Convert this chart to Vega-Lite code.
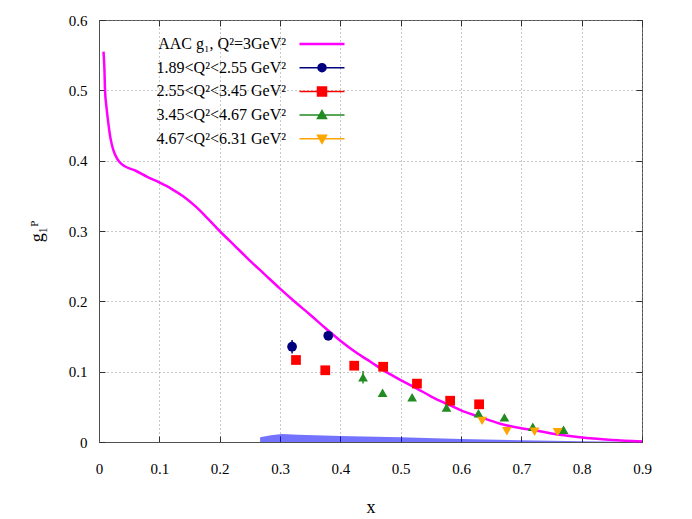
{
  "$schema": "https://vega.github.io/schema/vega-lite/v6.json",
  "width": 543,
  "height": 422,
  "autosize": {"type": "none"},
  "padding": {"left": 99, "top": 20, "right": 50, "bottom": 77},
  "background": "white",
  "config": {
    "font": "Liberation Serif",
    "view": {"stroke": "#505050", "strokeWidth": 1},
    "axis": {
      "labelFont": "Liberation Serif", "labelFontSize": 15, "labelColor": "#000", "labelFlush": false,
      "titleFont": "Liberation Serif", "titleFontSize": 18, "titleFontWeight": "normal", "titleColor": "#000",
      "domainColor": "#505050", "tickColor": "#303030", "tickSize": -6,
      "gridDash": [1, 3], "gridColor": "#909090", "gridOpacity": 1, "gridWidth": 1
    }
  },
  "datasets": {
    "band": [
      {"x": 0.267, "g1": 0.0067}, {"x": 0.285, "g1": 0.0095}, {"x": 0.303, "g1": 0.0112},
      {"x": 0.33, "g1": 0.0102}, {"x": 0.40, "g1": 0.0085}, {"x": 0.50, "g1": 0.0067},
      {"x": 0.60, "g1": 0.0043}, {"x": 0.70, "g1": 0.0025}, {"x": 0.80, "g1": 0.001}, {"x": 0.9, "g1": 0.0}
    ],
    "curve": [
      {"x": 0.0075, "g1": 0.555, "series": "AAC g₁, Q²=3GeV²"},
      {"x": 0.009, "g1": 0.53, "series": "AAC g₁, Q²=3GeV²"},
      {"x": 0.010, "g1": 0.50, "series": "AAC g₁, Q²=3GeV²"},
      {"x": 0.0125, "g1": 0.475, "series": "AAC g₁, Q²=3GeV²"},
      {"x": 0.0155, "g1": 0.453, "series": "AAC g₁, Q²=3GeV²"},
      {"x": 0.019, "g1": 0.432, "series": "AAC g₁, Q²=3GeV²"},
      {"x": 0.0238, "g1": 0.415, "series": "AAC g₁, Q²=3GeV²"},
      {"x": 0.03, "g1": 0.403, "series": "AAC g₁, Q²=3GeV²"},
      {"x": 0.0376, "g1": 0.395, "series": "AAC g₁, Q²=3GeV²"},
      {"x": 0.045, "g1": 0.391, "series": "AAC g₁, Q²=3GeV²"},
      {"x": 0.06, "g1": 0.386, "series": "AAC g₁, Q²=3GeV²"},
      {"x": 0.08, "g1": 0.377, "series": "AAC g₁, Q²=3GeV²"},
      {"x": 0.10, "g1": 0.369, "series": "AAC g₁, Q²=3GeV²"},
      {"x": 0.12, "g1": 0.360, "series": "AAC g₁, Q²=3GeV²"},
      {"x": 0.14, "g1": 0.349, "series": "AAC g₁, Q²=3GeV²"},
      {"x": 0.16, "g1": 0.335, "series": "AAC g₁, Q²=3GeV²"},
      {"x": 0.18, "g1": 0.318, "series": "AAC g₁, Q²=3GeV²"},
      {"x": 0.20, "g1": 0.300, "series": "AAC g₁, Q²=3GeV²"},
      {"x": 0.225, "g1": 0.279, "series": "AAC g₁, Q²=3GeV²"},
      {"x": 0.25, "g1": 0.258, "series": "AAC g₁, Q²=3GeV²"},
      {"x": 0.275, "g1": 0.238, "series": "AAC g₁, Q²=3GeV²"},
      {"x": 0.30, "g1": 0.218, "series": "AAC g₁, Q²=3GeV²"},
      {"x": 0.325, "g1": 0.199, "series": "AAC g₁, Q²=3GeV²"},
      {"x": 0.35, "g1": 0.181, "series": "AAC g₁, Q²=3GeV²"},
      {"x": 0.375, "g1": 0.162, "series": "AAC g₁, Q²=3GeV²"},
      {"x": 0.40, "g1": 0.144, "series": "AAC g₁, Q²=3GeV²"},
      {"x": 0.425, "g1": 0.128, "series": "AAC g₁, Q²=3GeV²"},
      {"x": 0.45, "g1": 0.114, "series": "AAC g₁, Q²=3GeV²"},
      {"x": 0.475, "g1": 0.100, "series": "AAC g₁, Q²=3GeV²"},
      {"x": 0.50, "g1": 0.088, "series": "AAC g₁, Q²=3GeV²"},
      {"x": 0.527, "g1": 0.076, "series": "AAC g₁, Q²=3GeV²"},
      {"x": 0.55, "g1": 0.065, "series": "AAC g₁, Q²=3GeV²"},
      {"x": 0.582, "g1": 0.052, "series": "AAC g₁, Q²=3GeV²"},
      {"x": 0.60, "g1": 0.045, "series": "AAC g₁, Q²=3GeV²"},
      {"x": 0.63, "g1": 0.036, "series": "AAC g₁, Q²=3GeV²"},
      {"x": 0.665, "g1": 0.026, "series": "AAC g₁, Q²=3GeV²"},
      {"x": 0.70, "g1": 0.0195, "series": "AAC g₁, Q²=3GeV²"},
      {"x": 0.72, "g1": 0.017, "series": "AAC g₁, Q²=3GeV²"},
      {"x": 0.75, "g1": 0.012, "series": "AAC g₁, Q²=3GeV²"},
      {"x": 0.797, "g1": 0.0067, "series": "AAC g₁, Q²=3GeV²"},
      {"x": 0.85, "g1": 0.003, "series": "AAC g₁, Q²=3GeV²"},
      {"x": 0.90, "g1": 0.0008, "series": "AAC g₁, Q²=3GeV²"}
    ],
    "points": [
      {"x": 0.320, "g1": 0.1355, "err": 0.0095, "series": "1.89<Q²<2.55 GeV²"},
      {"x": 0.380, "g1": 0.151, "err": 0.003, "series": "1.89<Q²<2.55 GeV²"},
      {"x": 0.3265, "g1": 0.1166, "err": 0.003, "series": "2.55<Q²<3.45 GeV²"},
      {"x": 0.375, "g1": 0.102, "err": 0.003, "series": "2.55<Q²<3.45 GeV²"},
      {"x": 0.423, "g1": 0.1085, "err": 0.003, "series": "2.55<Q²<3.45 GeV²"},
      {"x": 0.471, "g1": 0.107, "err": 0.003, "series": "2.55<Q²<3.45 GeV²"},
      {"x": 0.527, "g1": 0.083, "err": 0.003, "series": "2.55<Q²<3.45 GeV²"},
      {"x": 0.582, "g1": 0.0587, "err": 0.003, "series": "2.55<Q²<3.45 GeV²"},
      {"x": 0.630, "g1": 0.0536, "err": 0.005, "series": "2.55<Q²<3.45 GeV²"},
      {"x": 0.4376, "g1": 0.092, "err": 0.009, "series": "3.45<Q²<4.67 GeV²"},
      {"x": 0.470, "g1": 0.070, "err": 0.003, "series": "3.45<Q²<4.67 GeV²"},
      {"x": 0.519, "g1": 0.0635, "err": 0.003, "series": "3.45<Q²<4.67 GeV²"},
      {"x": 0.576, "g1": 0.049, "err": 0.003, "series": "3.45<Q²<4.67 GeV²"},
      {"x": 0.629, "g1": 0.0408, "err": 0.003, "series": "3.45<Q²<4.67 GeV²"},
      {"x": 0.672, "g1": 0.035, "err": 0.003, "series": "3.45<Q²<4.67 GeV²"},
      {"x": 0.719, "g1": 0.0218, "err": 0.003, "series": "3.45<Q²<4.67 GeV²"},
      {"x": 0.770, "g1": 0.0175, "err": 0.003, "series": "3.45<Q²<4.67 GeV²"},
      {"x": 0.635, "g1": 0.030, "err": 0.003, "series": "4.67<Q²<6.31 GeV²"},
      {"x": 0.676, "g1": 0.0152, "err": 0.003, "series": "4.67<Q²<6.31 GeV²"},
      {"x": 0.722, "g1": 0.0147, "err": 0.003, "series": "4.67<Q²<6.31 GeV²"},
      {"x": 0.760, "g1": 0.0138, "err": 0.003, "series": "4.67<Q²<6.31 GeV²"}
    ]
  },
  "layer": [
    {
      "data": {"name": "band"},
      "mark": {"type": "area", "color": "#0000ff", "opacity": 0.55},
      "encoding": {
        "x": {"field": "x", "type": "quantitative", "scale": {"domain": [0, 0.9], "nice": false},
          "axis": {"orient": "bottom", "title": "x", "values": [0, 0.1, 0.2, 0.3, 0.4, 0.5, 0.6, 0.7, 0.8, 0.9], "format": ".1~f", "labelPadding": 25, "titlePadding": 22, "grid": true}},
        "y": {"field": "g1", "type": "quantitative", "scale": {"domain": [0, 0.6], "nice": false},
          "axis": {"orient": "left", "title": "g₁ᴾ", "values": [0, 0.1, 0.2, 0.3, 0.4, 0.5, 0.6], "format": ".1~f", "labelPadding": 18, "titlePadding": 22, "grid": true}}
      }
    },
    {
      "data": {"name": "curve"},
      "mark": {"type": "line", "strokeWidth": 2.5, "interpolate": "monotone"},
      "encoding": {
        "x": {"field": "x", "type": "quantitative",
          "axis": {"orient": "top", "labels": false, "title": null, "grid": false, "domain": false, "values": [0, 0.1, 0.2, 0.3, 0.4, 0.5, 0.6, 0.7, 0.8, 0.9]}},
        "y": {"field": "g1", "type": "quantitative",
          "axis": {"orient": "right", "labels": false, "title": null, "grid": false, "domain": false, "values": [0, 0.1, 0.2, 0.3, 0.4, 0.5, 0.6]}},
        "color": {
          "field": "series", "type": "nominal",
          "scale": {
            "domain": ["AAC g₁, Q²=3GeV²", "1.89<Q²<2.55 GeV²", "2.55<Q²<3.45 GeV²", "3.45<Q²<4.67 GeV²", "4.67<Q²<6.31 GeV²"],
            "range": ["#ff00ff", "#00007f", "#ff0000", "#228b22", "#ffa500"]
          },
          "legend": {
            "title": null, "orient": "none", "legendX": 215, "legendY": 16,
            "labelAlign": "right", "labelOffset": -44, "symbolSize": 100, "rowPadding": 7.7,
            "labelFont": "Liberation Serif", "labelFontSize": 16, "labelColor": "#000",
            "encode": {
              "symbols": {
                "update": {
                  "shape": {"signal": "['M-4.5,0H4.5', 'M-4.5,0H4.5M0.8,0A0.8,0.8,0,1,1,-0.8,0A0.8,0.8,0,1,1,0.8,0', 'M-4.5,0H4.5M-0.9,-0.9H0.9V0.9H-0.9Z', 'M-4.5,0H4.5M0,-0.9L0.9,0.7L-0.9,0.7Z', 'M-4.5,0H4.5M0,0.9L0.9,-0.7L-0.9,-0.7Z'][datum.index]"},
                  "stroke": {"scale": "color", "field": "value"},
                  "fill": {"scale": "color", "field": "value"},
                  "strokeWidth": {"signal": "datum.index === 0 ? 2.5 : 1.5"},
                  "opacity": {"value": 1}
                }
              }
            }
          }
        }
      }
    },
    {
      "data": {"name": "points"},
      "mark": {"type": "errorbar", "ticks": false, "thickness": 1.5},
      "encoding": {
        "x": {"field": "x", "type": "quantitative", "axis": null},
        "y": {"field": "g1", "type": "quantitative", "axis": null},
        "yError": {"field": "err"},
        "color": {"field": "series", "type": "nominal"}
      }
    },
    {
      "data": {"name": "points"},
      "mark": {"type": "point", "filled": true, "opacity": 1, "size": 95},
      "encoding": {
        "x": {"field": "x", "type": "quantitative", "axis": null},
        "y": {"field": "g1", "type": "quantitative", "axis": null},
        "color": {"field": "series", "type": "nominal"},
        "shape": {
          "field": "series", "type": "nominal", "legend": null,
          "scale": {
            "domain": ["1.89<Q²<2.55 GeV²", "2.55<Q²<3.45 GeV²", "3.45<Q²<4.67 GeV²", "4.67<Q²<6.31 GeV²"],
            "range": ["circle", "square", "triangle-up", "triangle-down"]
          }
        }
      }
    }
  ],
  "resolve": {"axis": {"x": "independent", "y": "independent"}}
}
